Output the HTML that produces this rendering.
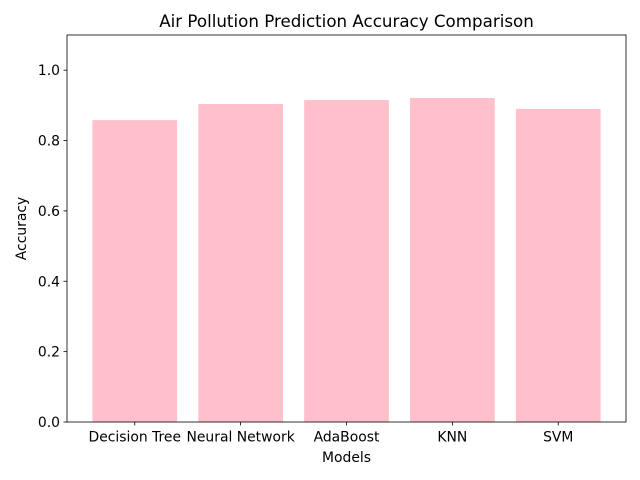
<!DOCTYPE html>
<html><head><meta charset="utf-8"><style>
body{margin:0;background:#fff;}
svg{display:block;font-family:"DejaVu Sans","Liberation Sans",sans-serif;}
</style></head><body>
<svg id="chart" width="640" height="480"></svg>
<script>
const categories = ["Decision Tree","Neural Network","AdaBoost","KNN","SVM"];
const accuracyValues = [0.858, 0.904, 0.915, 0.921, 0.890];
const yTickLabels = ["0.0","0.2","0.4","0.6","0.8","1.0"];
const yTickValues = [0, 0.2, 0.4, 0.6, 0.8, 1.0];

const NS="http://www.w3.org/2000/svg";
const svg=document.getElementById('chart');
const L=67,R=626,T=35,B=422;
const yMax=1.1;
const xMin=-0.64,xMax=categories.length-1+0.64;
function xs(v){return L+(v-xMin)/(xMax-xMin)*(R-L);}
function ys(v){return B-v/yMax*(B-T);}
function mk(tag,attrs,name){const e=document.createElementNS(NS,tag);for(const k in attrs)e.setAttribute(k,attrs[k]);


svg.appendChild(e);return e;}
const bw=0.8*(R-L)/(xMax-xMin);
categories.forEach((c,i)=>{
  const y=ys(accuracyValues[i]);
  mk('rect',{x:xs(i)-bw/2,y:y,width:bw,height:B-y,fill:'#ffc0cb'},'bar-'+c.toLowerCase().replace(/ /g,'-'));
  mk('line',{x1:xs(i),x2:xs(i),y1:B,y2:B+3.5,stroke:'#000','stroke-width':0.8},'x-tick');
  const t=mk('text',{x:xs(i),y:B+19.5,'text-anchor':'middle','font-size':13.9},'x-tick-label');t.textContent=c;
});
yTickValues.forEach((v,i)=>{
  const y=ys(v);
  mk('line',{x1:L-3.5,x2:L,y1:y,y2:y,stroke:'#000','stroke-width':0.8},'y-tick');
  const t=mk('text',{x:L-7,y:y+5,'text-anchor':'end','font-size':13.9},'y-tick-label');t.textContent=yTickLabels[i];
});
mk('rect',{x:L,y:T,width:R-L,height:B-T,fill:'none',stroke:'#000','stroke-width':0.8},'plot-frame');
let t=mk('text',{x:(L+R)/2,y:T-8,'text-anchor':'middle','font-size':16.7},'chart-title');t.textContent='Air Pollution Prediction Accuracy Comparison';
t=mk('text',{x:(L+R)/2,y:462,'text-anchor':'middle','font-size':13.9},'x-axis-title');t.textContent='Models';
t=mk('text',{x:0,y:0,'text-anchor':'middle','font-size':13.9,transform:'translate(26,'+((T+B)/2)+') rotate(-90)'},'y-axis-title');t.textContent='Accuracy';
</script>
</body></html>
